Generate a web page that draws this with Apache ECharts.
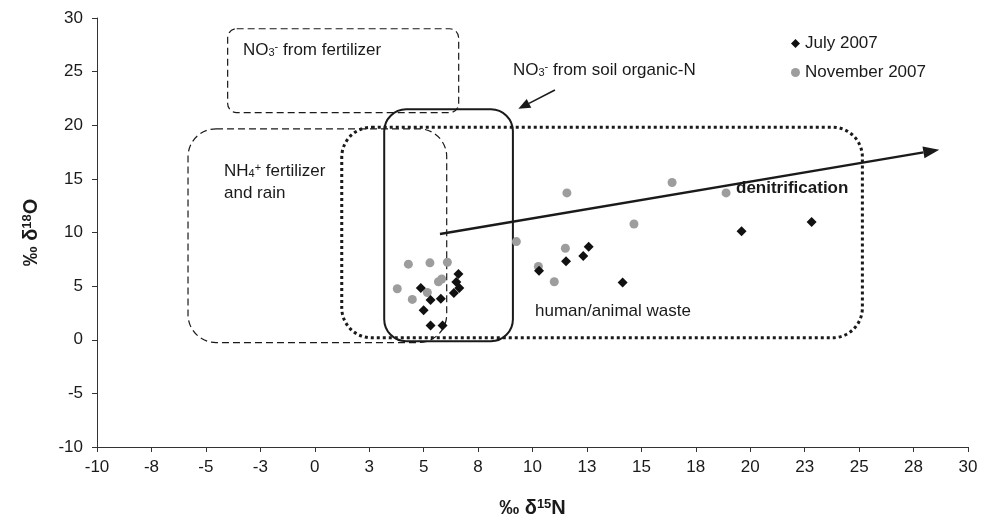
<!DOCTYPE html>
<html>
<head>
<meta charset="utf-8">
<script src="https://cdn.jsdelivr.net/npm/echarts@6/dist/echarts.min.js"></script>
<style>
html, body { margin: 0; padding: 0; background: #fff; }
#main { width: 992px; height: 524px; }
</style>
</head>
<body>
<div id="main"></div>
<script>
// nitrate isotopes, two sampling campaigns (‰)
var julyN = [6.6, 6.5, 6.64, 4.87, 6.39, 5.32, 5.79, 5.0, 5.32, 5.87, 22.82, 19.6, 12.58, 12.33, 11.54, 10.3, 14.14];
var julyO = [6.12, 5.38, 4.82, 4.82, 4.36, 3.71, 3.83, 2.74, 1.32, 1.32, 10.97, 10.11, 8.68, 7.82, 7.33, 6.43, 5.34];
var novN = [4.3, 5.29, 6.09, 3.79, 4.48, 5.17, 5.68, 5.83, 9.26, 11.58, 16.41, 18.89, 14.66, 11.51, 10.27, 11.0];
var novO = [7.05, 7.17, 7.23, 4.76, 3.76, 4.41, 5.41, 5.66, 9.15, 13.69, 14.66, 13.69, 10.79, 8.53, 6.83, 5.41];
var seriesNames = ['July 2007', 'November 2007'];
var xTickLabels = ['-10', '-8', '-5', '-3', '0', '3', '5', '8', '10', '13', '15', '18', '20', '23', '25', '28', '30'];

// source regions: [N min, O min, N max, O max]
var fertNO3Box = [-4.0, 21.18, 6.61, 29.0];
var nh4RainBox = [-5.82, -0.26, 6.06, 19.67];
var soilNBox = [3.19, -0.13, 9.1, 21.49];
var wasteBox = [1.24, 0.18, 25.15, 19.82];
// arrows: [N from, O from, N to, O to]
var denitArrow = [5.75, 9.86, 28.68, 17.72];
var soilArrow = [11.03, 23.29, 9.35, 21.53];

var FONT = 'Liberation Sans, Arial, sans-serif';
var INK = '#1a1a1a';

function pairs(xs, ys) {
  var out = [];
  for (var i = 0; i < xs.length; i++) out.push([xs[i], ys[i]]);
  return out;
}

var boxLook = [
  { r: 9, w: 1.2, dash: [7, 4] },
  { r: 28, w: 1.2, dash: [7, 4] },
  { r: 22, w: 2, dash: null },
  { r: 30, w: 3, dash: [3, 3] }
];
var arrowLook = [
  { w: 2.5, head: 16, half: 6 },
  { w: 1.6, head: 12, half: 5 }
];

function renderBox(params, api) {
  var tl = api.coord([api.value(0), api.value(3)]);
  var br = api.coord([api.value(2), api.value(1)]);
  var lk = boxLook[params.dataIndex];
  return {
    type: 'rect',
    shape: { x: tl[0], y: tl[1], width: br[0] - tl[0], height: br[1] - tl[1], r: lk.r },
    style: { fill: 'none', stroke: INK, lineWidth: lk.w, lineDash: lk.dash }
  };
}

function renderArrow(params, api) {
  var a = api.coord([api.value(0), api.value(1)]);
  var b = api.coord([api.value(2), api.value(3)]);
  var lk = arrowLook[params.dataIndex];
  var ang = Math.atan2(b[1] - a[1], b[0] - a[0]);
  var bx = b[0] - lk.head * Math.cos(ang), by = b[1] - lk.head * Math.sin(ang);
  var nx = -Math.sin(ang), ny = Math.cos(ang);
  return {
    type: 'group',
    children: [
      { type: 'line', shape: { x1: a[0], y1: a[1], x2: bx, y2: by }, style: { stroke: INK, lineWidth: lk.w } },
      { type: 'polygon', shape: { points: [[b[0], b[1]], [bx + nx * lk.half, by + ny * lk.half], [bx - nx * lk.half, by - ny * lk.half]] }, style: { fill: INK } }
    ]
  };
}

var subsup = {
  sub: { fontSize: 11, fontFamily: FONT, verticalAlign: 'bottom', lineHeight: 11, color: INK },
  sup: { fontSize: 11, fontFamily: FONT, verticalAlign: 'top', lineHeight: 11, color: INK }
};

function note(x, y, text, bold) {
  return {
    type: 'text', x: x, y: y, z: 100,
    style: {
      text: text, fill: INK, font: (bold ? 'bold ' : '') + '17px ' + FONT,
      verticalAlign: 'middle', rich: subsup
    }
  };
}

var myChart = echarts.init(document.getElementById('main'));

var option = {
  backgroundColor: '#fff',
  animation: false,
  grid: { left: 97, right: 24, top: 18, bottom: 77 },
  legend: {
    data: [
      { name: seriesNames[0], icon: 'diamond' },
      { name: seriesNames[1], icon: 'circle' }
    ],
    orient: 'vertical',
    left: 786,
    top: 30,
    itemWidth: 9,
    itemHeight: 9,
    itemGap: 12,
    itemStyle: { borderWidth: 0 },
    textStyle: { fontSize: 17, fontFamily: FONT, color: INK }
  },
  xAxis: {
    type: 'value',
    min: -10,
    max: 30,
    interval: 2.5,
    name: '‰ δ{sup|15}N',
    nameLocation: 'middle',
    nameGap: 51,
    nameTextStyle: {
      fontSize: 20, fontWeight: 'bold', fontFamily: FONT, color: INK,
      rich: { sup: { fontSize: 13, fontWeight: 'bold', fontFamily: FONT, verticalAlign: 'top', lineHeight: 12, color: INK } }
    },
    splitLine: { show: false },
    axisLine: { onZero: false, lineStyle: { color: '#333', width: 1 } },
    axisTick: { lineStyle: { color: '#333' }, length: 5 },
    axisLabel: {
      fontSize: 17, fontFamily: FONT, color: INK, margin: 12,
      formatter: function (value, index) { return xTickLabels[index]; }
    }
  },
  yAxis: {
    type: 'value',
    min: -10,
    max: 30,
    interval: 5,
    name: '‰ δ{sup|18}O',
    nameLocation: 'middle',
    nameRotate: 90,
    nameGap: 56,
    nameTextStyle: {
      fontSize: 20, fontWeight: 'bold', fontFamily: FONT, color: INK,
      rich: { sup: { fontSize: 13, fontWeight: 'bold', fontFamily: FONT, verticalAlign: 'top', lineHeight: 12, color: INK } }
    },
    splitLine: { show: false },
    axisLine: { show: true, onZero: false, lineStyle: { color: '#333', width: 1 } },
    axisTick: { show: true, lineStyle: { color: '#333' }, length: 5 },
    axisLabel: { fontSize: 17, fontFamily: FONT, color: INK, margin: 14 }
  },
  series: [
    {
      type: 'custom',
      name: 'regions',
      renderItem: renderBox,
      encode: { x: [0, 2], y: [1, 3] },
      data: [fertNO3Box, nh4RainBox, soilNBox, wasteBox],
      silent: true,
      z: 1
    },
    {
      type: 'custom',
      name: 'arrows',
      renderItem: renderArrow,
      encode: { x: [0, 2], y: [1, 3] },
      data: [denitArrow, soilArrow],
      silent: true,
      z: 3
    },
    {
      type: 'scatter',
      name: seriesNames[0],
      symbol: 'diamond',
      symbolSize: 10,
      itemStyle: { color: '#111', opacity: 1 },
      data: pairs(julyN, julyO),
      z: 4
    },
    {
      type: 'scatter',
      name: seriesNames[1],
      symbol: 'circle',
      symbolSize: 9,
      itemStyle: { color: '#9d9d9d', opacity: 1 },
      data: pairs(novN, novO),
      z: 2
    }
  ],
  graphic: [
    note(243, 50, 'NO{sub|3}{sup|-} from fertilizer'),
    note(224, 171, 'NH{sub|4}{sup|+} fertilizer'),
    note(224, 193, 'and rain'),
    note(513, 70, 'NO{sub|3}{sup|-} from soil organic-N'),
    note(736, 188, 'denitrification', true),
    note(535, 311, 'human/animal waste')
  ]
};

myChart.setOption(option);
</script>
</body>
</html>
